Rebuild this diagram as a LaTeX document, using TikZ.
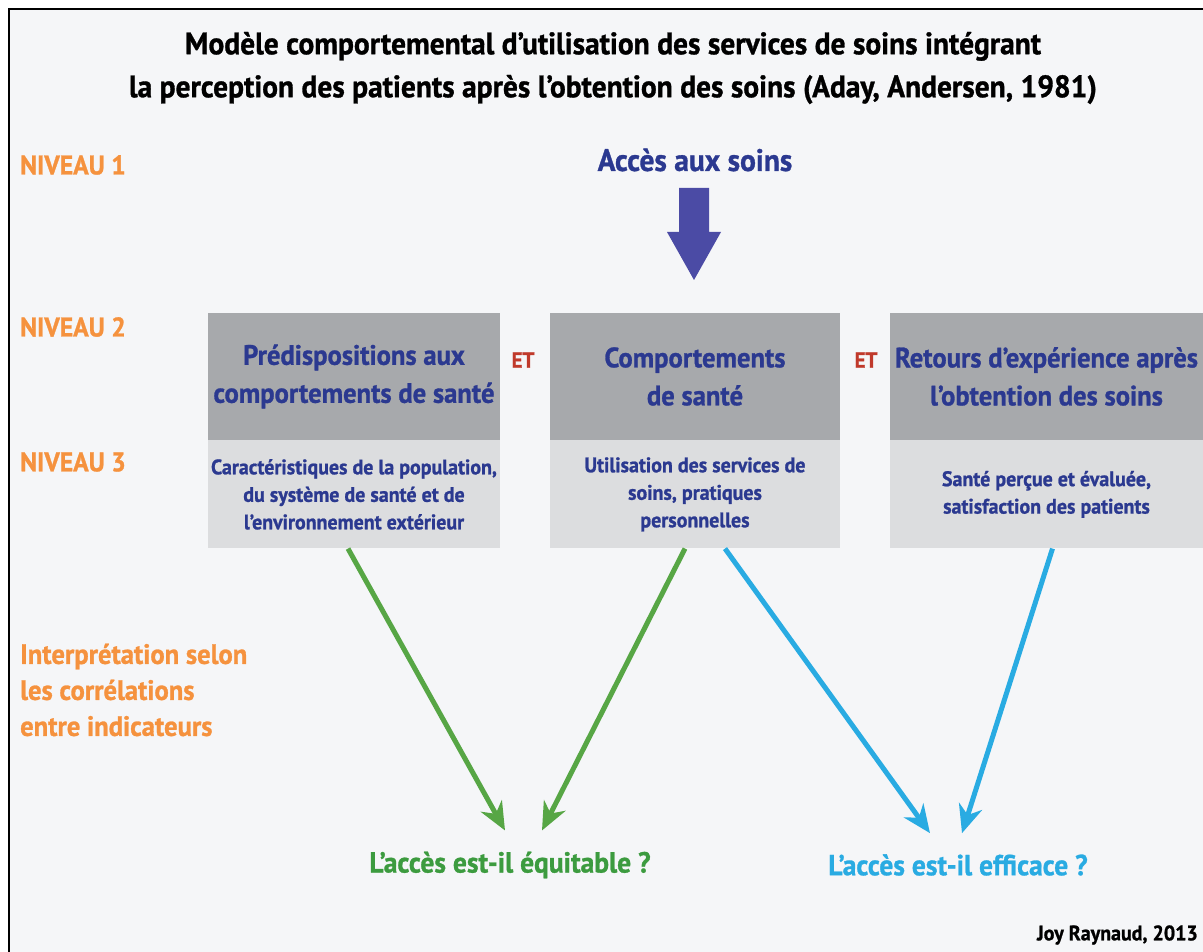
\documentclass[tikz,border=0pt]{standalone}
\usepackage{fontspec}
\setmainfont{PT Sans}[FakeStretch=0.95, BoldFeatures={FakeBold=1}]
\usepackage{xcolor}
\usepackage{tikz}
\usetikzlibrary{calc,positioning,arrows.meta}
\definecolor{bg}{HTML}{F5F6F8}
\definecolor{orange}{HTML}{F5923E}
\definecolor{navy}{HTML}{2B3990}
\definecolor{slate}{HTML}{4B4BA5}
\definecolor{darkgrey}{HTML}{A7A9AC}
\definecolor{lightgrey}{HTML}{DCDDDF}
\definecolor{etred}{HTML}{C0392B}
\definecolor{green}{HTML}{57A645}
\definecolor{greentext}{HTML}{3C9B3F}
\definecolor{cyan}{HTML}{29ABE2}
\tikzset{
  frame/.style={draw=black, line width=2.5pt},
  title/.style={font=\bfseries\fontsize{31}{43}\selectfont, align=center},
  level/.style={text=orange, font=\bfseries\fontsize{27}{36}\selectfont, anchor=west, align=left, inner sep=0pt},
  head/.style={fill=darkgrey, text=navy, font=\bfseries\fontsize{28}{38}\selectfont, align=center, minimum height=127pt, inner sep=0pt},
  body/.style={fill=lightgrey, text=navy, font=\bfseries\fontsize{21}{27.5}\selectfont, align=center, minimum height=108pt, inner sep=0pt},
  et/.style={text=etred, font=\bfseries\fontsize{22}{24}\selectfont},
  eq/.style={draw=green, line width=5pt, -{Stealth[length=28pt,width=24pt,inset=9pt]}},
  ef/.style={draw=cyan, line width=5pt, -{Stealth[length=28pt,width=24pt,inset=9pt]}},
  question/.style={font=\bfseries\fontsize{29}{32}\selectfont, inner sep=0pt},
}
\begin{document}
\begin{tikzpicture}[x=1pt, y=-1pt]
  \useasboundingbox (0,0) rectangle (1203,952);
  \fill[white] (0,0) rectangle (1203,952);
  \fill[bg] (9,9) rectangle (1203,952);
  \draw[frame] (9,952) -- (9,9) -- (1203,9);

  \node[title] (titre) at (613,68) {Modèle comportemental d’utilisation des services de soins intégrant\\
    la perception des patients après l’obtention des soins (Aday, Andersen, 1981)};

  % niveaux
  \node[level] (n1) at (20,165) {NIVEAU 1};
  \node[level] (n2) at (20,327) {NIVEAU 2};
  \node[level] (n3) at (20,462) {NIVEAU 3};
  \node[level, font=\bfseries\fontsize{28}{36}\selectfont] (interp) at (20,690) {Interprétation selon\\les corrélations\\entre indicateurs};

  \node[text=navy, font=\bfseries\fontsize{31}{36}\selectfont] (acces) at (695,160) {Accès aux soins};
  \coordinate (tip) at (694,280);
  \fill[slate] ($(tip)+(-15,-92)$) -- ($(tip)+(15,-92)$) -- ($(tip)+(15,-48)$) -- ($(tip)+(27,-48)$)
    -- (tip) -- ($(tip)+(-27,-48)$) -- ($(tip)+(-15,-48)$) -- cycle;

  % boites
  \node[head, minimum width=292pt] (pred) at (354,376.5) {Prédispositions aux\\comportements de santé};
  \node[body, minimum width=292pt, below=0pt of pred] (predb) {Caractéristiques de la population,\\du système de santé et de\\l’environnement extérieur};
  \node[head, minimum width=290pt] (comp) at (695,376.5) {Comportements\\de santé};
  \node[body, minimum width=290pt, below=0pt of comp] (compb) {Utilisation des services de\\soins, pratiques\\personnelles};
  \node[head, minimum width=313pt] (ret) at (1046.5,376.5) {Retours d’expérience après\\l’obtention des soins};
  \node[body, minimum width=313pt, below=0pt of ret] (retb) {Santé perçue et évaluée,\\satisfaction des patients};

  \node[et] (et1) at (523,360) {ET};
  \node[et] (et2) at (866,360) {ET};

  \node[question, text=greentext] (equi) at (510,865) {L’accès est-il équitable ?};
  \node[question, text=cyan] (effi) at (958,865) {L’accès est-il efficace ?};

  \draw[eq] ([xshift=-6pt]predb.south) -- ([xshift=-5pt,yshift=21pt]equi.north);
  \draw[eq] ([xshift=-10pt]compb.south) -- ([xshift=32pt,yshift=21pt]equi.north);
  \draw[ef] ([xshift=30pt]compb.south) -- ([xshift=-28pt,yshift=21pt]effi.north);
  \draw[ef] ([xshift=6pt]retb.south) -- ([xshift=4pt,yshift=21pt]effi.north);

  \node[font=\bfseries\fontsize{21}{24}\selectfont, anchor=east, inner sep=0pt] (auteur) at (1198,935) {Joy Raynaud, 2013};
\end{tikzpicture}
\end{document}
